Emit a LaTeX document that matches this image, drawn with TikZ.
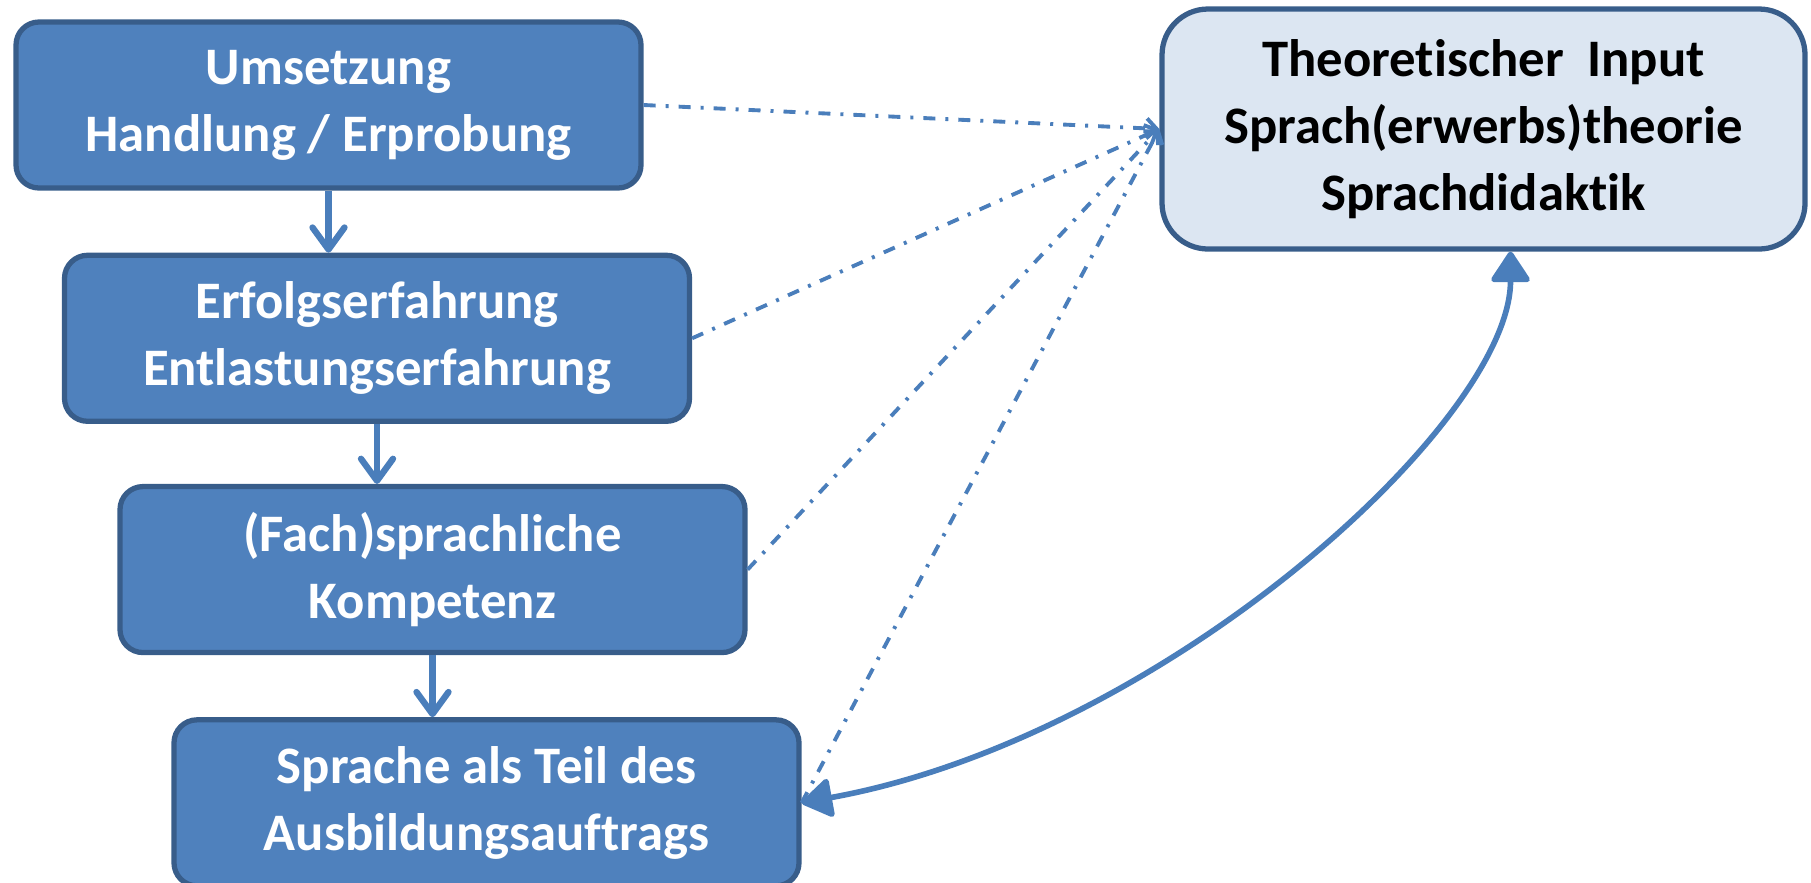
\documentclass[tikz,border=0pt]{standalone}
\usepackage{fontspec}
\setmainfont{Carlito}[Ligatures=NoCommon]
\usetikzlibrary{positioning,arrows.meta}
\definecolor{boxfill}{HTML}{4F81BD}
\definecolor{boxline}{HTML}{385D8A}
\definecolor{arrowblue}{HTML}{4A7EBB}
\definecolor{theofill}{HTML}{DCE6F2}

\begin{document}
\begin{tikzpicture}[
    stage/.style = { draw = boxline, line width = 1.5pt, fill = boxfill, rounded corners = 0.23cm,
                     minimum width = 6.25cm, minimum height = 1.66cm, align = center,
                     text = white, font = \fontsize{15}{19}\selectfont\bfseries },
    theory/.style = { stage, fill = theofill, text = black, rounded corners = 0.46cm,
                      minimum width = 6.43cm, minimum height = 2.4cm },
    down/.style = { draw = arrowblue, line width = 1.8pt,
                    -{Straight Barb[length=2.2mm, width=3.2mm, line cap=round, line join=round]} },
    hint/.style = { draw = arrowblue, line width = 1.1pt, dash pattern = on 1.2mm off 1mm on 0.3mm off 1mm,
                    -{Straight Barb[length=1mm, width=2mm]} },
    loop/.style = { draw = arrowblue, line width = 1.6pt,
                    {Triangle[length=3.3mm, width=4.2mm, round]}-{Triangle[length=3.3mm, width=4.2mm, round]} }
  ]
    \useasboundingbox (0,0) rectangle (18.11,-8.82);

    \node [stage] (umsetzung) at (3.285,-1.05) { Umsetzung \\ Handlung / Erprobung };
    \node [stage, below = 0.62cm of umsetzung, xshift = 0.485cm] (erfolg) { Erfolgserfahrung \\ Entlastungserfahrung };
    \node [stage, below = 0.60cm of erfolg, xshift = 0.555cm] (kompetenz) { (Fach)sprachliche \\ Kompetenz };
    \node [stage, below = 0.62cm of kompetenz, xshift = 0.54cm] (auftrag) { Sprache als Teil des \\ Ausbildungsauftrags };
    \node [theory] (input) at (14.835,-1.29) { Theoretischer~ Input \\ Sprach(erwerbs)theorie \\ Sprachdidaktik };

    \draw [down] (umsetzung.south) -- (umsetzung.south |- erfolg.north);
    \draw [down] (erfolg.south) -- (erfolg.south |- kompetenz.north);
    \draw [down] (kompetenz.south) -- (kompetenz.south |- auftrag.north);

    \draw [hint] (umsetzung.east) -- (input.west);
    \draw [hint] (erfolg.east) -- (input.west);
    \draw [hint] (kompetenz.east) -- (input.west);
    \draw [hint] (auftrag.east) -- (input.west);

    \draw [loop] ([xshift = 0.27cm] input.south) .. controls +(0,-1.71) and +(3.6,0.65) .. (auftrag.east);
\end{tikzpicture}
\end{document}
